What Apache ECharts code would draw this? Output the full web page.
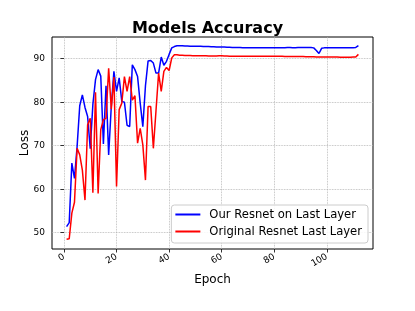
<!DOCTYPE html>
<html><head><meta charset="utf-8">
<script src="https://cdn.jsdelivr.net/npm/echarts@6/dist/echarts.min.js"></script>
<style>html,body{margin:0;padding:0;background:#fff}#c{width:415px;height:311px}</style>
</head><body><div id="c"></div>
<script>
const epochs = [1,2,3,4,5,6,7,8,9,10,11,12,13,14,15,16,17,18,19,20,
  21,22,23,24,25,26,27,28,29,30,31,32,33,34,35,36,37,38,39,40,
  41,42,43,44,45,46,47,48,49,50,51,52,53,54,55,56,57,58,59,60,
  61,62,63,64,65,66,67,68,69,70,71,72,73,74,75,76,77,78,79,80,
  81,82,83,84,85,86,87,88,89,90,91,92,93,94,95,96,97,98,99,100,
  101,102,103,104,105,106,107,108,109,110,111,112];

const ourResnet = [
  51.4, 52.3, 66.0, 62.5, 69.8, 79.2, 81.7, 78.8, 76.7, 69.3,
  79.5, 85.2, 87.5, 86.0, 70.4, 83.8, 67.9, 79.0, 87.1, 82.5,
  85.6, 80.2, 80.0, 74.7, 74.4, 88.6, 87.5, 85.9, 79.8, 74.4,
  83.8, 89.5, 89.6, 89.0, 86.7, 86.7, 90.4, 88.5, 89.4, 91.0,
  92.5, 92.8, 93.0, 93.0, 93.0, 92.95, 92.95, 92.9, 92.9, 92.9,
  92.85, 92.85, 92.8, 92.8, 92.8, 92.75, 92.75, 92.7, 92.7, 92.7,
  92.7, 92.65, 92.65, 92.6, 92.6, 92.6, 92.6, 92.55, 92.55, 92.55,
  92.5, 92.5, 92.5, 92.5, 92.5, 92.5, 92.5, 92.55, 92.55, 92.5,
  92.5, 92.5, 92.55, 92.55, 92.6, 92.6, 92.55, 92.55, 92.6, 92.6,
  92.6, 92.6, 92.6, 92.6, 92.5, 91.9, 91.2, 92.4, 92.5, 92.5,
  92.5, 92.5, 92.5, 92.5, 92.5, 92.5, 92.55, 92.55, 92.55, 92.55,
  92.6, 93.0];

const originalResnet = [
  48.5, 48.6, 54.5, 57.0, 69.4, 67.9, 64.4, 57.5, 74.8, 76.3,
  59.2, 82.3, 59.0, 73.7, 76.0, 76.3, 87.8, 78.4, 85.8, 60.6,
  78.3, 79.8, 85.9, 82.5, 85.9, 80.5, 81.5, 70.6, 74.0, 70.2,
  62.1, 79.0, 79.0, 69.4, 78.0, 86.7, 82.5, 87.1, 88.0, 87.3,
  90.2, 90.9, 90.9, 90.8, 90.8, 90.75, 90.75, 90.75, 90.7, 90.7,
  90.7, 90.7, 90.7, 90.7, 90.65, 90.65, 90.65, 90.65, 90.7, 90.7,
  90.65, 90.65, 90.6, 90.6, 90.6, 90.6, 90.6, 90.6, 90.6, 90.6,
  90.6, 90.6, 90.6, 90.6, 90.6, 90.6, 90.55, 90.55, 90.55, 90.55,
  90.55, 90.55, 90.55, 90.5, 90.5, 90.5, 90.5, 90.5, 90.5, 90.5,
  90.5, 90.45, 90.45, 90.45, 90.45, 90.4, 90.4, 90.4, 90.4, 90.4,
  90.4, 90.4, 90.4, 90.4, 90.35, 90.35, 90.35, 90.35, 90.35, 90.4,
  90.4, 91.0];

const xTicks = [0, 20, 40, 60, 80, 100];
const yTicks = [50, 60, 70, 80, 90];
const seriesNames = ['Our Resnet on Last Layer', 'Original Resnet Last Layer'];

const font = 'DejaVu Sans';
const chart = echarts.init(document.getElementById('c'), null, {renderer: 'canvas'});
const pairs = arr => epochs.map((e, i) => [e, arr[i]]);

const option = {
  animation: false,
  backgroundColor: '#fff',
  title: {
    text: 'Models Accuracy', left: 'center', top: 16,
    textStyle: {fontFamily: font, fontWeight: 'bold', fontSize: 16, color: '#000'}
  },
  grid: {left: 52, right: 42, top: 37, bottom: 62, show: true, borderColor: '#000', borderWidth: 1},
  legend: {
    orient: 'vertical', right: 47, bottom: 68,
    data: seriesNames,
    icon: 'rect', itemWidth: 25, itemHeight: 2, itemGap: 4,
    padding: [3, 6, 5, 4],
    backgroundColor: 'rgba(255,255,255,0.85)', borderColor: '#cccccc', borderWidth: 1, borderRadius: 3,
    textStyle: {fontFamily: font, fontSize: 11.6, color: '#000', lineHeight: 13, padding: [0, 0, 0, 4]}
  },
  xAxis: {
    type: 'value', min: -4.55, max: 117.55,
    name: 'Epoch', nameLocation: 'middle', nameGap: 25, nameMoveOverlap: false,
    nameTextStyle: {fontFamily: font, fontSize: 12, color: '#000'},
    axisLine: {show: false},
    axisTick: {show: true, customValues: xTicks, length: 3.5, lineStyle: {color: '#000', width: 0.8}},
    axisLabel: {customValues: xTicks, rotate: 30, margin: 7, fontFamily: font, fontSize: 9, color: '#000'},
    splitLine: {show: true, lineStyle: {type: 'dotted', color: '#b0b0b0', width: 0.8}}
  },
  yAxis: {
    type: 'value', min: 46.25, max: 95.0,
    name: 'Loss', nameLocation: 'middle', nameGap: 21, nameMoveOverlap: false,
    nameTextStyle: {fontFamily: font, fontSize: 12, color: '#000'},
    axisLine: {show: false},
    axisTick: {show: true, customValues: yTicks, length: 3.5, lineStyle: {color: '#000', width: 0.8}},
    axisLabel: {customValues: yTicks, margin: 7, fontFamily: font, fontSize: 9, color: '#000'},
    splitLine: {show: true, lineStyle: {type: 'dotted', color: '#b0b0b0', width: 0.8}}
  },
  series: [
    {name: seriesNames[0], type: 'line', data: pairs(ourResnet), showSymbol: false,
     color: '#0000ff', lineStyle: {color: '#0000ff', width: 1.5}},
    {name: seriesNames[1], type: 'line', data: pairs(originalResnet), showSymbol: false,
     color: '#ff0000', lineStyle: {color: '#ff0000', width: 1.5}}
  ]
};
chart.setOption(option);
</script>
</body></html>
